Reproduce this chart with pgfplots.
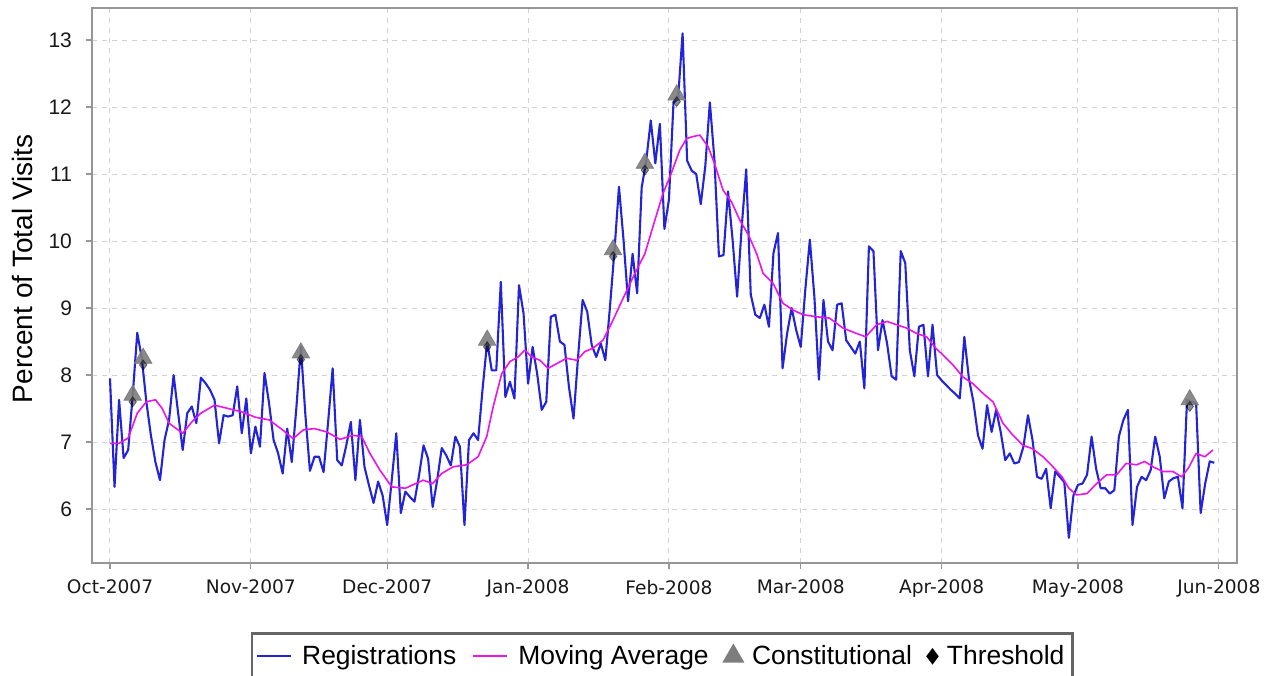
\documentclass[border=0pt]{standalone}
\usepackage{fontspec}
\setmainfont{Liberation Sans}
\newfontfamily\dejavu{DejaVu Sans}
\usepackage{pgfplots}
\pgfplotsset{compat=1.18}
\definecolor{regblue}{RGB}{35,35,215}
\definecolor{mavg}{RGB}{235,20,235}
\definecolor{consgray}{RGB}{125,125,125}
\definecolor{framegray}{RGB}{150,150,150}
\begin{document}
\begin{tikzpicture}
\useasboundingbox (-46pt,-56pt) rectangle (586pt,281.5pt);
\begin{axis}[
  at={(0,0)}, anchor=south west,
  scale only axis, width=572.5pt, height=277.5pt,
  xmin=-3.96, xmax=248, ymin=5.194, ymax=13.478,
  xtick={0,31,61,92,123,152,183,213,244},
  xticklabels={Oct-2007,Nov-2007,Dec-2007,Jan-2008,Feb-2008,Mar-2008,Apr-2008,May-2008,Jun-2008},
  ytick={6,7,8,9,10,11,12,13},
  /pgf/number format/assume math mode=true,
  xticklabel style={font=\dejavu\fontsize{9.3}{11}\selectfont, text=black!90, yshift=-2pt},
  yticklabel style={font=\fontsize{10.5}{12}\selectfont, text=black!90, xshift=-3.5pt},
  tick align=outside, major tick length=3pt,
  tick style={framegray, line width=0.6pt},
  axis line style={framegray, line width=0.8pt},
  xtick pos=bottom, ytick pos=left,
  grid=major,
  major grid style={gray!35, dash pattern=on 2.5pt off 2.5pt, line width=0.5pt},
  ylabel={Percent of Total Visits},
  ylabel style={font=\fontsize{14}{16}\selectfont, at={(axis description cs:-0.061,0.53)}, anchor=center, rotate=0},
  legend style={at={(axis description cs:0.498,-0.124)}, anchor=north, draw=black!60, line width=1.4pt,
    font=\fontsize{13.2}{15}\selectfont, legend columns=4, inner xsep=2pt, inner ysep=4pt,
    /tikz/every odd column/.append style={column sep=3pt},
    /tikz/every even column/.append style={column sep=6pt}},
  legend cell align=left,
]
\addlegendimage{regblue, line width=1pt}
\addlegendentry{Registrations}
\addlegendimage{mavg, line width=1pt}
\addlegendentry{Moving Average}
\addlegendimage{only marks, mark=triangle*, mark size=5pt, mark options={fill=consgray, draw=consgray}}
\addlegendentry{Constitutional}
\addlegendimage{only marks, mark=diamond*, mark size=3pt, mark options={fill=black, draw=black}}
\addlegendentry{Threshold}

% Registrations
\addplot[regblue, line width=1.05pt, forget plot, line join=round] coordinates {
(0,7.95)(1,6.33)(2,7.63)(3,6.76)(4,6.88)(5,7.70)(6,8.63)(7,8.25)(8,7.6)(9,7.1)
(10,6.7)(11,6.43)(12,7.03)(13,7.33)(14,8.0)(15,7.43)(16,6.88)(17,7.43)(18,7.53)(19,7.28)
(20,7.96)(21,7.88)(22,7.78)(23,7.63)(24,6.98)(25,7.4)(26,7.38)(27,7.4)(28,7.83)(29,7.13)
(30,7.65)(31,6.83)(32,7.23)(33,6.93)(34,8.03)(35,7.58)(36,7.03)(37,6.83)(38,6.53)(39,7.2)
(40,6.70)(41,7.5)(42,8.42)(43,7.4)(44,6.57)(45,6.78)(46,6.78)(47,6.55)(48,7.3)(49,8.10)
(50,6.73)(51,6.65)(52,6.95)(53,7.30)(54,6.43)(55,7.33)(56,6.63)(57,6.35)(58,6.09)(59,6.41)
(60,6.2)(61,5.76)(62,6.43)(63,7.13)(64,5.94)(65,6.26)(66,6.18)(67,6.11)(68,6.5)(69,6.95)
(70,6.75)(71,6.03)(72,6.43)(73,6.91)(74,6.8)(75,6.65)(76,7.08)(77,6.93)(78,5.76)(79,7.03)
(80,7.13)(81,7.03)(82,7.8)(83,8.5)(84,8.07)(85,8.07)(86,9.39)(87,7.67)(88,7.90)(89,7.65)
(90,9.34)(91,8.92)(92,7.87)(93,8.42)(94,8.02)(95,7.48)(96,7.60)(97,8.87)(98,8.90)(99,8.50)
(100,8.45)(101,7.82)(102,7.35)(103,8.27)(104,9.12)(105,8.95)(106,8.45)(107,8.27)(108,8.47)(109,8.22)
(110,9.0)(111,9.85)(112,10.81)(113,10.02)(114,9.1)(115,9.81)(116,9.22)(117,10.8)(118,11.2)(119,11.8)
(120,11.16)(121,11.75)(122,10.18)(123,10.62)(124,12.07)(125,12.12)(126,13.1)(127,11.2)(128,11.05)(129,11.0)
(130,10.55)(131,11.12)(132,12.07)(133,11.22)(134,9.77)(135,9.79)(136,10.74)(137,10.02)(138,9.17)(139,10.2)
(140,11.07)(141,9.2)(142,8.9)(143,8.85)(144,9.05)(145,8.72)(146,9.82)(147,10.12)(148,8.10)(149,8.62)
(150,9.0)(151,8.67)(152,8.42)(153,9.27)(154,10.02)(155,9.17)(156,7.93)(157,9.12)(158,8.5)(159,8.37)
(160,9.05)(161,9.07)(162,8.52)(163,8.42)(164,8.32)(165,8.5)(166,7.8)(167,9.92)(168,9.85)(169,8.37)
(170,8.82)(171,8.47)(172,7.98)(173,7.93)(174,9.85)(175,9.67)(176,8.37)(177,7.98)(178,8.72)(179,8.75)
(180,7.98)(181,8.75)(182,8.0)(183,7.92)(184,7.85)(185,7.78)(186,7.72)(187,7.65)(188,8.57)(189,7.95)
(190,7.6)(191,7.1)(192,6.9)(193,7.55)(194,7.15)(195,7.48)(196,7.15)(197,6.73)(198,6.83)(199,6.68)
(200,6.7)(201,6.93)(202,7.4)(203,7.03)(204,6.48)(205,6.45)(206,6.6)(207,6.01)(208,6.56)(209,6.48)
(210,6.4)(211,5.57)(212,6.2)(213,6.36)(214,6.38)(215,6.51)(216,7.08)(217,6.6)(218,6.31)(219,6.31)
(220,6.23)(221,6.28)(222,7.08)(223,7.33)(224,7.48)(225,5.76)(226,6.33)(227,6.48)(228,6.43)(229,6.58)
(230,7.08)(231,6.78)(232,6.16)(233,6.41)(234,6.46)(235,6.48)(236,6.01)(237,7.63)(238,7.6)(239,7.58)
(240,5.94)(241,6.38)(242,6.71)(243,6.69)
};

% Moving average
\addplot[mavg, line width=0.8pt, forget plot, line join=round] coordinates {
(0,6.98)(2,6.98)(4,7.06)(6,7.43)(8,7.6)(10,7.63)(11.5,7.5)(13,7.28)(16,7.13)(18,7.3)
(20,7.43)(23,7.55)(26,7.5)(29,7.45)(32,7.37)(35,7.33)(38,7.18)(40.3,7.05)(42.5,7.18)(45,7.2)
(47.7,7.15)(50.6,7.04)(53.5,7.1)(55.4,7.08)(57.2,6.83)(59.4,6.58)(62,6.33)(65,6.31)(68.9,6.43)(71,6.38)
(73,6.53)(75.5,6.63)(78.5,6.66)(81,6.78)(82.9,7.08)(84.3,7.52)(86.2,8.02)(88,8.2)(89.8,8.27)(91.3,8.37)
(92.8,8.27)(94.6,8.22)(96.4,8.1)(98.3,8.17)(100.5,8.25)(102.7,8.22)(104.5,8.35)(106.3,8.4)(108.5,8.52)(110.7,8.82)
(112.6,9.1)(115.1,9.46)(117.7,9.81)(119.9,10.31)(121.7,10.71)(123.5,11.01)(125.4,11.36)(126.9,11.53)(128.3,11.56)(129.8,11.58)
(131.6,11.41)(133,11.16)(134.9,10.76)(136.8,10.58)(138.6,10.31)(140.5,10.09)(142.3,9.81)(143.7,9.52)(145.9,9.37)(148.1,9.07)
(150.3,8.97)(152.5,8.9)(155.4,8.87)(158.3,8.85)(161.3,8.7)(164.3,8.62)(166.3,8.57)(168.7,8.75)(171,8.8)(173.1,8.75)
(175.3,8.7)(177.5,8.62)(179.7,8.57)(181.7,8.4)(183.3,8.3)(185.5,8.15)(187.7,7.97)(189.9,7.87)(192.2,7.72)(194.3,7.6)
(196.5,7.28)(198.7,7.1)(200.9,6.95)(203,6.9)(205.3,6.78)(207.5,6.63)(209.5,6.48)(211,6.31)(212.7,6.21)(215,6.23)
(217.1,6.38)(219.3,6.51)(221.5,6.51)(223.6,6.68)(225.9,6.66)(227.7,6.71)(229.5,6.63)(231.7,6.56)(233.9,6.56)(235.8,6.48)
(237.3,6.61)(239,6.83)(240.9,6.78)(242.7,6.88)
};

% Constitutional
\addplot[only marks, mark=triangle*, mark size=5pt, forget plot,
  mark options={fill=consgray, draw=consgray, fill opacity=0.9}] coordinates {
(5,7.7)(7.3,8.25)(42,8.33)(83,8.52)(110.7,9.87)(117.7,11.16)(124.7,12.18)(237.6,7.63)
};
% Threshold
\addplot[only marks, mark=diamond*, mark size=2.5pt, forget plot,
  mark options={fill=black, draw=black, opacity=0.45}] coordinates {
(5,7.6)(7.3,8.15)(42,8.23)(83,8.42)(110.7,9.77)(117.7,11.06)(124.7,12.08)(237.6,7.53)
};
\end{axis}
\end{tikzpicture}
\end{document}
